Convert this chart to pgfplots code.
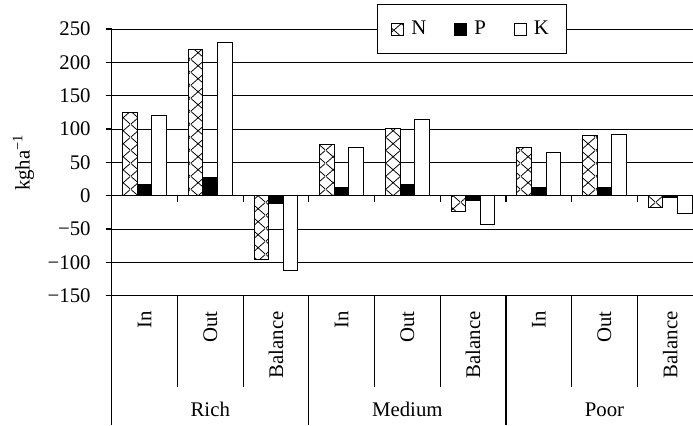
\documentclass[border=0pt]{standalone}
\usepackage{fontspec}
\setmainfont{Liberation Serif}
\usepackage{pgfplots}
\usepackage{pgfplotstable}
\pgfplotsset{compat=1.18}
\usetikzlibrary{patterns}

\newcommand\cf{\fontsize{10.4}{12}\selectfont}

% big cross-hatch, one X per bar width
\pgfdeclarepatternformonly{bigx}{\pgfpoint{0pt}{0pt}}{\pgfpoint{7.3pt}{6.6pt}}{\pgfpoint{7.3pt}{6.6pt}}{
  \pgfsetlinewidth{0.4pt}
  \pgfpathmoveto{\pgfpoint{0pt}{0pt}}\pgfpathlineto{\pgfpoint{7.3pt}{6.6pt}}
  \pgfpathmoveto{\pgfpoint{0pt}{6.6pt}}\pgfpathlineto{\pgfpoint{7.3pt}{0pt}}
  \pgfusepath{stroke}}

\pgfplotstableread{
x N P K
0 125 17 120
1 220 28 230
2 -96 -11 -112
3 77 13 72
4 101 17 115
5 -24 -7 -43
6 72 13 65
7 90 13 92
8 -18 -2.5 -27
}\nutrients

\begin{document}
\begin{tikzpicture}
\begin{axis}[name=ax, scale only axis, width=290.65pt, height=133.35pt,
  ybar, bar width=0.2222,
  xmin=-0.5, xmax=8.348, ymin=-150, ymax=250,
  axis lines=left, axis line style={black, line width=0.6pt, -},
  ytick={-150,-100,...,250},
  yticklabels={−150,−100,−50,0,50,100,150,200,250},
  ymajorgrids, grid style={black, line width=0.5pt},
  y tick style={black, line width=0.6pt}, tick align=outside, major tick length=3pt,
  yticklabel style={font=\cf, anchor=east, inner sep=0pt, xshift=-7.35pt},
  xtick={0,...,8},
  xticklabels={In,Out,Balance,In,Out,Balance,In,Out,Balance},
  x tick style={draw=none},
  xticklabel style={font=\cf, rotate=90, anchor=east, inner xsep=4.65pt, inner ysep=0pt},
  clip=false,
  legend columns=3,
  legend image code/.code={\draw[#1, line width=0.5pt] (0pt,-3pt) rectangle (6pt,3pt);},
  legend style={at={(0.62,1)}, anchor=center, draw=black, line width=0.5pt, fill=white,
    font=\cf, inner xsep=7pt, inner ysep=6pt,
    /tikz/every odd column/.append style={column sep=1.5pt},
    /tikz/every even column/.append style={column sep=12pt}},
]
\addplot[draw=black, line width=0.5pt, fill=white, postaction={pattern=bigx}, bar shift=-0.2222]
  table[x=x, y=N] {\nutrients};
\addlegendentry{N}
\addplot[draw=black, line width=0.5pt, fill=black, bar shift=0]
  table[x=x, y=P] {\nutrients};
\addlegendentry{P}
\addplot[draw=black, line width=0.5pt, fill=white, bar shift=0.2222]
  table[x=x, y=K] {\nutrients};
\addlegendentry{K}

% ticks on the zero line at category boundaries
\pgfplotsinvokeforeach{0.5,1.5,2.5,3.5,4.5,5.5,6.5,7.5}{
  \draw[black, line width=0.6pt] (axis cs:#1,0) -- ++(0pt,-3pt);}
% separators under the axis
\pgfplotsinvokeforeach{0.5,1.5,3.5,4.5,6.5,7.5}{
  \draw[black, line width=0.6pt] (axis cs:#1,-150) -- ++(0pt,-45.65pt);}
\pgfplotsinvokeforeach{-0.5,2.5,5.5}{
  \draw[black, line width=0.6pt] (axis cs:#1,-150) -- ++(0pt,-64.8pt);}
\node[font=\cf, anchor=base] at ([yshift=-60.5pt]axis cs:1,-150) {Rich};
\node[font=\cf, anchor=base] at ([yshift=-60.5pt]axis cs:4,-150) {Medium};
\node[font=\cf, anchor=base] at ([yshift=-60.5pt]axis cs:7,-150) {Poor};

\coordinate (bl) at (rel axis cs:0,0);
\coordinate (tr) at (rel axis cs:1,1);
\coordinate (yl) at (rel axis cs:0,0.5);
\end{axis}
\node[font=\cf, rotate=90] at ([xshift=-44.1pt]yl) {kgha\textsuperscript{−1}};
\pgfresetboundingbox
\path[use as bounding box] ([xshift=-55.85pt, yshift=-64.65pt]bl) rectangle ([yshift=14.5pt]tr);
\end{tikzpicture}
\end{document}
